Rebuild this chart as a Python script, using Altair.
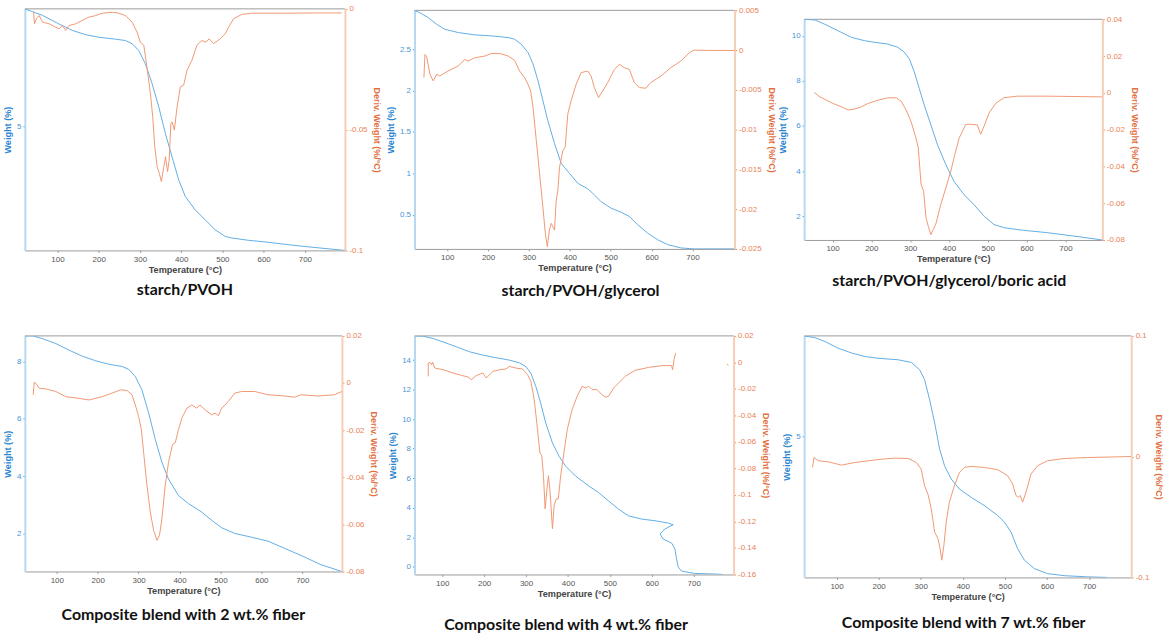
import altair as alt
import pandas as pd

# ---------------- data ----------------
# Panel 1: starch/PVOH
p1_wT = [21, 64, 100, 136, 168, 201, 241, 265, 281, 297, 313, 329.5, 345.6, 361.7, 377.8, 394, 410, 434, 458, 482.5, 506.7, 523, 563, 603, 684, 764, 797]
p1_wY = [8.6, 8.4, 8.16, 7.94, 7.81, 7.73, 7.67, 7.63, 7.53, 7.33, 6.92, 6.31, 5.6, 4.78, 4.07, 3.36, 2.85, 2.44, 2.14, 1.83, 1.63, 1.58, 1.51, 1.46, 1.34, 1.24, 1.2]
p1_dT = [42, 44.4, 49, 55.7, 63.8, 80, 96, 104, 112, 120, 128, 144, 160, 176.5, 192.6, 208.7, 233, 249, 265, 281, 293, 301, 309.4, 317, 325.5, 331, 336, 341.6, 347, 352, 358, 362, 367, 371, 375, 378, 383.5, 390, 398, 406, 414, 426, 438, 450, 460, 468, 478.5, 494.6, 506.7, 515, 527, 547, 571, 643.6, 724, 789]
p1_dY = [-0.0014, -0.0062, -0.0041, -0.0028, -0.0055, -0.0062, -0.0076, -0.0083, -0.0069, -0.0089, -0.0069, -0.0062, -0.0048, -0.0034, -0.0028, -0.0018, -0.0014, -0.0018, -0.0028, -0.0055, -0.0096, -0.0138, -0.0151, -0.0241, -0.0351, -0.0447, -0.0571, -0.0653, -0.0681, -0.0715, -0.0653, -0.0612, -0.0674, -0.0626, -0.0475, -0.0468, -0.0502, -0.0406, -0.0323, -0.0316, -0.0255, -0.0213, -0.0151, -0.0131, -0.0138, -0.0124, -0.0144, -0.0124, -0.0103, -0.0076, -0.0041, -0.0023, -0.0018, -0.0018, -0.0017, -0.0017]

# Panel 2: starch/PVOH/glycerol
p2_wT = [19.5, 33, 53.7, 74, 94, 127, 167.5, 208, 249, 265, 281, 297.6, 310, 322, 334, 346, 362.6, 378.9, 399, 419.5, 443.9, 456, 476, 500.8, 525, 545.5, 566, 590, 614.6, 639, 671.5, 704, 803]
p2_wY = [2.968, 2.94, 2.88, 2.8, 2.74, 2.7, 2.672, 2.66, 2.64, 2.62, 2.56, 2.46, 2.32, 2.12, 1.88, 1.64, 1.36, 1.12, 1.0, 0.88, 0.812, 0.76, 0.66, 0.58, 0.532, 0.48, 0.38, 0.28, 0.2, 0.14, 0.1, 0.088, 0.088]
p2_dT = [43, 45.5, 49.6, 57.7, 65.8, 74, 82, 102, 127, 139, 143, 151, 167.5, 192, 208, 232.5, 249, 265, 277, 289.4, 297.6, 304, 310, 318, 326, 334, 340, 345, 350, 354.5, 358.5, 362.6, 366.7, 370.7, 374.8, 383, 388.6, 395, 403, 415.5, 427.6, 443.9, 452, 460, 470, 480.5, 492.7, 509, 521, 533, 545.5, 557.7, 570, 586, 598, 623, 647, 671.5, 692, 704, 736.6, 803]
p2_dY = [-0.00346, -0.00054, -0.00075, -0.00304, -0.00388, -0.00304, -0.00325, -0.00263, -0.002, -0.00138, -0.00117, -0.00138, -0.00096, -0.00075, -0.00042, -0.00046, -0.00075, -0.00129, -0.00263, -0.00346, -0.00429, -0.00513, -0.00721, -0.01138, -0.01554, -0.0197, -0.02304, -0.02471, -0.02263, -0.02179, -0.02221, -0.02263, -0.01888, -0.01763, -0.01471, -0.01263, -0.01221, -0.00804, -0.00638, -0.00429, -0.00283, -0.00263, -0.00325, -0.00471, -0.00596, -0.00513, -0.00408, -0.00242, -0.00179, -0.00221, -0.00242, -0.00408, -0.00471, -0.00479, -0.00408, -0.00325, -0.00221, -0.00138, -0.00033, 0.0, -0.00004, -0.00004]

# Panel 3: starch/PVOH/glycerol/boric acid
p3_wT = [26.6, 54.8, 80, 114.5, 148.6, 182.8, 208, 242.5, 268, 285, 298, 310.8, 323.6, 336.4, 353.5, 370.5, 391.9, 413, 438.8, 464.4, 490, 515.6, 541, 592, 652, 737.6, 794.7]
p3_wY = [10.73, 10.7, 10.51, 10.22, 9.93, 9.78, 9.71, 9.63, 9.49, 9.27, 8.97, 8.39, 7.65, 6.92, 6.04, 5.16, 4.28, 3.54, 2.95, 2.51, 2.0, 1.63, 1.49, 1.37, 1.27, 1.08, 0.943]
p3_dT = [53, 67.6, 84.6, 101.7, 123, 140, 157, 174, 191, 217, 242.5, 264, 276.7, 289.5, 302.3, 315, 321, 328, 334.7, 340.7, 347.5, 353.5, 357.7, 366, 379, 392, 404.7, 415, 426, 434.6, 443, 455.9, 473, 481.5, 490, 502.8, 520, 541, 575, 652, 794.7]
p3_dY = [0.0002, -0.0022, -0.004, -0.0058, -0.0076, -0.0093, -0.0088, -0.0076, -0.0058, -0.004, -0.0027, -0.0027, -0.0045, -0.0093, -0.0156, -0.0246, -0.03, -0.0498, -0.0534, -0.0678, -0.0732, -0.0771, -0.075, -0.0714, -0.0606, -0.0516, -0.0426, -0.0336, -0.0246, -0.021, -0.0171, -0.0171, -0.0174, -0.0225, -0.0183, -0.0111, -0.0058, -0.0027, -0.0018, -0.0018, -0.0022]

# Panel 4: composite blend with 2 wt.% fiber
p4_wT = [22, 41, 65, 97.6, 130, 162.4, 195, 227, 259.7, 276, 292, 308, 324.6, 340.8, 357, 373, 397.6, 421.9, 454, 478.6, 503, 535, 576, 616.5, 657, 697.6, 746, 796.5]
p4_wY = [8.887, 8.89, 8.79, 8.62, 8.39, 8.18, 8.02, 7.9, 7.82, 7.72, 7.47, 7.01, 6.2, 5.28, 4.48, 3.9, 3.32, 3.04, 2.75, 2.46, 2.2, 2.0, 1.87, 1.73, 1.48, 1.23, 0.91, 0.675]
p4_dT = [42.4, 45, 49, 57, 73, 97.6, 122, 154, 178.6, 211, 235, 255.7, 272, 284, 292, 300, 306.8, 312.4, 320.5, 328.6, 336.8, 344.9, 351, 357, 365, 373, 383, 389.5, 397.6, 405.7, 418, 430, 442, 450, 462.4, 478.6, 486.8, 495, 503, 519, 535, 551.6, 584, 616.5, 657, 681, 697.6, 738, 778.7, 796.5]
p4_dY = [-0.005, 0.0003, -0.0001, -0.0022, -0.0025, -0.0036, -0.0058, -0.0065, -0.0072, -0.0058, -0.0043, -0.0029, -0.0032, -0.005, -0.0093, -0.0142, -0.0198, -0.0296, -0.0436, -0.0548, -0.0626, -0.0668, -0.0647, -0.0576, -0.0436, -0.0338, -0.0261, -0.0254, -0.0198, -0.0149, -0.0107, -0.0093, -0.0107, -0.0093, -0.0114, -0.0135, -0.0128, -0.0139, -0.0107, -0.0079, -0.0043, -0.0036, -0.0036, -0.005, -0.0055, -0.006, -0.005, -0.0055, -0.005, -0.0036]

# Panel 5: composite blend with 4 wt.% fiber (temperature runs back near 650 °C)
p5_wT = [33.7, 55, 78.7, 102, 134, 165.5, 197, 228.7, 260, 284, 300, 311.6, 323.4, 335, 347, 363, 378.7, 394.5, 418, 449.7, 473, 497, 520.8, 544.5, 576, 607.6, 639, 651, 631, 619.5, 627, 647, 655, 659, 663, 671, 702, 750, 769.5]
p5_wY = [15.64, 15.62, 15.46, 15.23, 14.9, 14.56, 14.34, 14.16, 14.0, 13.82, 13.55, 13.1, 12.21, 11.08, 9.74, 8.39, 7.49, 6.82, 6.15, 5.47, 5.03, 4.46, 3.9, 3.45, 3.23, 3.12, 2.96, 2.85, 2.56, 2.22, 1.88, 1.61, 1.21, 0.54, -0.02, -0.29, -0.45, -0.49, -0.52]
p5_dT = [66.8, 66.8, 70.8, 74.7, 77, 82.6, 102, 126, 146, 161.6, 169.5, 181, 197, 205, 220.8, 236.6, 252, 260, 276, 292, 303.7, 311.6, 319.5, 327.4, 333, 337.6, 341.6, 345.5, 350, 353.4, 357.4, 363, 367, 372, 377, 382.6, 390.5, 398.4, 410, 422, 434, 442, 449.7, 457.6, 469, 481, 489, 497, 509, 520.8, 536.6, 560, 592, 623.4, 647, 649.5, 653, 656.6, 779, 783]
p5_dY = [-0.0105, -0.0005, 0.0, -0.0018, 0.0003, -0.0043, -0.0055, -0.008, -0.0098, -0.011, -0.013, -0.01, -0.008, -0.0118, -0.0068, -0.0055, -0.005, -0.003, -0.0043, -0.005, -0.0093, -0.0143, -0.028, -0.0505, -0.068, -0.0705, -0.0855, -0.1105, -0.0955, -0.0855, -0.098, -0.1255, -0.108, -0.103, -0.103, -0.0855, -0.068, -0.0505, -0.0355, -0.0255, -0.018, -0.0193, -0.018, -0.0205, -0.0205, -0.0243, -0.0263, -0.0255, -0.0193, -0.0155, -0.0105, -0.006, -0.0038, -0.0025, -0.0023, -0.0055, 0.002, 0.007, -0.0014, -0.0022]
p5_dSeg = [0] * 58 + [1, 1]

# Panel 6: composite blend with 7 wt.% fiber
p6_wT = [22.6, 48.7, 72.4, 104, 135.5, 167, 198.7, 246, 277.6, 297.4, 309, 321, 333, 345, 356.6, 372.4, 392, 419.7, 451, 483, 498.7, 514.5, 530, 546, 569.7, 601, 640.8, 696, 743.4]
p6_wY = [8.4, 8.34, 8.21, 7.98, 7.82, 7.7, 7.64, 7.59, 7.5, 7.25, 6.92, 6.24, 5.45, 4.55, 3.99, 3.54, 3.2, 2.92, 2.64, 2.3, 2.08, 1.74, 1.18, 0.79, 0.5, 0.33, 0.26, 0.22, 0.2]
p6_dT = [43, 46.3, 56.6, 80, 112, 143.6, 175, 206.6, 238, 270, 289.5, 301, 309, 317, 325, 333, 341, 346, 350, 355, 360.5, 368, 380, 392, 404, 419.7, 451, 483, 506.6, 518.4, 526.3, 531.8, 536.6, 542, 550, 562, 577.6, 601, 640.8, 696, 800]
p6_dY = [-0.0089, -0.0007, -0.0034, -0.0043, -0.007, -0.0048, -0.0034, -0.0021, -0.0012, -0.0015, -0.0048, -0.0103, -0.024, -0.0309, -0.0432, -0.0624, -0.0679, -0.0761, -0.0857, -0.0734, -0.0542, -0.0377, -0.024, -0.013, -0.0089, -0.0081, -0.0089, -0.0108, -0.0158, -0.0226, -0.0322, -0.0336, -0.0322, -0.0377, -0.0295, -0.0144, -0.0075, -0.0034, -0.0015, -0.0007, 0.0001]

captions = ["starch/PVOH", "starch/PVOH/glycerol", "starch/PVOH/glycerol/boric acid",
            "Composite blend with 2 wt.% fiber", "Composite blend with 4 wt.% fiber",
            "Composite blend with 7 wt.% fiber"]
x_ticks = [100, 200, 300, 400, 500, 600, 700]

# ---------------- styling ----------------
BLUE_LINE = "#62ADE5"
BLUE_AXIS = "#B8D7F0"
BLUE_TEXT = "#4896D6"
BLUE_TITLE = "#2C86D0"
ORANGE_LINE = "#F09874"
ORANGE_AXIS = "#F7CDB8"
ORANGE_TEXT = "#EA8256"
ORANGE_TITLE = "#E2703F"
GRAY = "#9A9A9A"
FONT = "Liberation Sans"


def panel(wT, wY, dT, dY, xdom, wdom, ddom, wticks, dticks, width, height,
          caption, cap_offset, cap_dx=0, dseg=None):
    dfw = pd.DataFrame({"T": wT, "W": wY, "i": list(range(len(wT)))})
    dfd = pd.DataFrame({"T": dT, "D": dY, "i": list(range(len(dT))),
                        "seg": dseg if dseg is not None else [0] * len(dT)})
    xscale = alt.Scale(domain=xdom, nice=False, zero=False)
    xaxis = alt.Axis(values=x_ticks, title="Temperature (°C)", grid=False,
                     domainColor=GRAY, tickColor=GRAY, tickSize=2,
                     labelColor="#555555", labelFontSize=8, labelFont=FONT,
                     titleColor="#444444", titleFontSize=9.2, titleFont=FONT,
                     titleFontWeight="bold", labelPadding=3, titlePadding=2)
    left = alt.Axis(values=wticks, title="Weight (%)", orient="left", grid=False,
                    domainColor=BLUE_AXIS, domainWidth=2, tickColor=BLUE_TEXT, tickSize=2,
                    labelColor=BLUE_TEXT, labelFontSize=8, labelFont=FONT,
                    labelExpr="'' + datum.value",
                    titleColor=BLUE_TITLE, titleFontSize=9.2, titleFont=FONT,
                    titleFontWeight="bold", labelPadding=2, titlePadding=4)
    right = alt.Axis(values=dticks, title="Deriv. Weight (%/°C)", orient="right", grid=False,
                     domainColor=ORANGE_AXIS, domainWidth=2, tickColor=ORANGE_TEXT, tickSize=2,
                     labelColor=ORANGE_TEXT, labelFontSize=8, labelFont=FONT,
                     labelExpr="'' + datum.value",
                     titleColor=ORANGE_TITLE, titleFontSize=9, titleFont=FONT,
                     titleFontWeight="bold", labelPadding=2, titlePadding=5)
    top = alt.Chart(pd.DataFrame({"a": [0]})).mark_rule(color=GRAY, strokeWidth=1).encode(
        x=alt.value(0), x2=alt.value(width), y=alt.value(0))
    wl = alt.Chart(dfw).mark_line(color=BLUE_LINE, strokeWidth=1, clip=True).encode(
        x=alt.X("T:Q", scale=xscale, axis=xaxis),
        y=alt.Y("W:Q", scale=alt.Scale(domain=wdom, nice=False, zero=False), axis=left),
        order="i:Q")
    dl = alt.Chart(dfd).mark_line(color=ORANGE_LINE, strokeWidth=1, clip=True).encode(
        x=alt.X("T:Q", scale=xscale, axis=xaxis),
        y=alt.Y("D:Q", scale=alt.Scale(domain=ddom, nice=False, zero=False), axis=right),
        order="i:Q", detail="seg:N")
    return alt.layer(top, wl, dl).resolve_scale(y="independent").properties(
        width=width, height=height,
        title=alt.TitleParams(caption, orient="bottom", anchor="middle", font="Lato",
                              fontSize=16, fontWeight="bold", color="#111111",
                              offset=cap_offset, dx=cap_dx))


p1 = panel(p1_wT, p1_wY, p1_dT, p1_dY, [21, 797], [1.2, 8.6], [-0.1, 0], [5],
           [-0.1, -0.05, 0], 322, 243, captions[0], 8)
p2 = panel(p2_wT, p2_wY, p2_dT, p2_dY, [20, 803], [0.088, 2.968], [-0.025, 0.005],
           [0.5, 1, 1.5, 2, 2.5], [-0.025, -0.02, -0.015, -0.01, -0.005, 0, 0.005],
           322, 240, captions[1], 10, 6)
p3 = panel(p3_wT, p3_wY, p3_dT, p3_dY, [27, 795], [0.943, 10.73], [-0.08, 0.04],
           [2, 4, 6, 8, 10], [-0.08, -0.06, -0.04, -0.02, 0, 0.02, 0.04],
           300, 222, captions[2], 9, -4)
p4 = panel(p4_wT, p4_wY, p4_dT, p4_dY, [22, 797], [0.675, 8.887], [-0.08, 0.02],
           [2, 4, 6, 8], [-0.08, -0.06, -0.04, -0.02, 0, 0.02],
           319, 237, captions[3], 12)
p5 = panel(p5_wT, p5_wY, p5_dT, p5_dY, [34, 795], [-0.52, 15.64], [-0.16, 0.02],
           [0, 2, 4, 6, 8, 10, 12, 14],
           [-0.16, -0.14, -0.12, -0.1, -0.08, -0.06, -0.04, -0.02, 0, 0.02],
           321, 240, captions[4], 19, -8, p5_dSeg)
p6 = panel(p6_wT, p6_wY, p6_dT, p6_dY, [23, 800], [0.2, 8.4], [-0.1, 0.1], [5],
           [-0.1, 0, 0.1], 329, 243, captions[5], 14, -4)

chart = alt.concat(p1, p2, p3, p4, p5, p6, columns=3,
                   spacing={"row": 86, "column": 70}, bounds="flush",
                   center={"row": True}).properties(
    padding={"left": 3, "top": 3, "right": 0, "bottom": 0},
    background="white",
).configure_view(stroke=None)

chart.save("out.html", embed_options={"renderer": "svg", "actions": False})
